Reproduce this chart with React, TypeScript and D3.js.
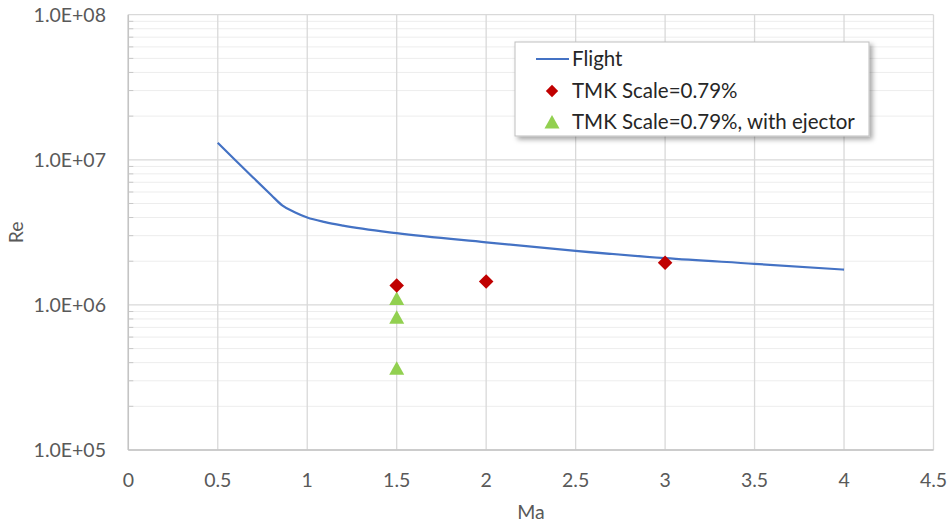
import React from "react";
import * as d3 from "d3";

// Flight envelope (Ma, Re)
const flightMa = [0.5, 0.6, 0.7, 0.8, 0.86, 0.93, 1.0, 1.1, 1.2, 1.5, 2.0, 2.5, 3.0, 3.5, 4.0];
const flightRe = [1.31e7, 9.9e6, 7.5e6, 5.7e6, 4.85e6, 4.35e6, 4.0e6, 3.72e6, 3.52e6, 3.12e6, 2.7e6, 2.36e6, 2.1e6, 1.92e6, 1.75e6];

// TMK Scale=0.79%
const tmkMa = [1.5, 2.0, 3.0];
const tmkRe = [1.36e6, 1.45e6, 1.95e6];

// TMK Scale=0.79%, with ejector
const ejMa = [1.5, 1.5, 1.5];
const ejRe = [1.09e6, 8.1e5, 3.6e5];

const xTicks = [0, 0.5, 1, 1.5, 2, 2.5, 3, 3.5, 4, 4.5];
const yTicks = [1e5, 1e6, 1e7, 1e8];
const yTickLabels = ["1.0E+05", "1.0E+06", "1.0E+07", "1.0E+08"];

const legendLabels = ["Flight", "TMK Scale=0.79%", "TMK Scale=0.79%, with ejector"];

const W = 952;
const H = 522;
const FONT = "Lato, 'Liberation Sans', sans-serif";
const TEXT = "#595959";

export default function App() {
  const x = d3.scaleLinear().domain([0, 4.5]).range([128.3, 933.5]);
  const y = d3.scaleLog().domain([1e5, 1e8]).range([450, 14.7]);

  const minor: number[] = [];
  for (let e = 5; e < 8; e++) {
    for (let m = 2; m <= 9; m++) minor.push(m * Math.pow(10, e));
  }

  const flight = flightMa.map((m, i) => [m, flightRe[i]] as [number, number]);
  const line = d3
    .line<[number, number]>()
    .x(d => x(d[0]))
    .y(d => y(d[1]))
    .curve(d3.curveMonotoneX);

  const diamond = d3.symbol().type(d3.symbolDiamond2).size(135)();
  const tri = (cx: number, cy: number) =>
    `M${cx},${cy - 8}L${cx + 7.5},${cy + 5.5}L${cx - 7.5},${cy + 5.5}Z`;

  const [x0, x1] = x.range();
  const [yb, yt] = y.range();

  const lg = { x: 515, y: 42, w: 354, h: 94 };
  const rowY = [59, 91, 122];

  return (
    <svg width={W} height={H} style={{ position: "absolute", left: 0, top: 0, background: "#fff" }}>
      <defs>
        <filter id="shadow" x="-10%" y="-10%" width="130%" height="140%">
          <feDropShadow dx="3" dy="3" stdDeviation="2.5" floodColor="#000" floodOpacity="0.35" />
        </filter>
      </defs>
      <rect width={W} height={H} fill="#fff" />

      {/* minor horizontal grid */}
      {minor.map((v, i) => (
        <g key={"m" + i}>
          <line x1={x0} x2={x1} y1={y(v)} y2={y(v)} stroke="#ededed" strokeWidth={1} />
          <line x1={x0} x2={x0 + 5} y1={y(v)} y2={y(v)} stroke="#c8c8c8" strokeWidth={1} />
        </g>
      ))}
      {/* major horizontal grid */}
      {yTicks.map((v, i) => (
        <line key={"M" + i} x1={x0} x2={x1} y1={y(v)} y2={y(v)} stroke="#d9d9d9" strokeWidth={1.3} />
      ))}
      {/* vertical grid */}
      {xTicks.map((v, i) => (
        <line key={"v" + i} x1={x(v)} x2={x(v)} y1={yt} y2={yb} stroke="#d9d9d9" strokeWidth={1.3} />
      ))}
      {/* axes */}
      <line x1={x0} x2={x1} y1={yb} y2={yb} stroke="#c4c4c4" strokeWidth={1.5} />
      <line x1={x0} x2={x0} y1={yt} y2={yb} stroke="#c4c4c4" strokeWidth={1.5} />

      {/* y tick labels */}
      {yTicks.map((v, i) => (
        <text key={"yl" + i} x={106} y={y(v)} dy="0.35em" textAnchor="end" fontFamily={FONT} fontSize={19.5} fill={TEXT}>
          {yTickLabels[i]}
        </text>
      ))}
      {/* x tick labels */}
      {xTicks.map((v, i) => (
        <text key={"xl" + i} x={x(v)} y={480} dy="0.35em" textAnchor="middle" fontFamily={FONT} fontSize={19.5} fill={TEXT}>
          {String(v)}
        </text>
      ))}
      <text x={(x0 + x1) / 2} y={512} dy="0.35em" textAnchor="middle" fontFamily={FONT} fontSize={19.5} fill={TEXT}>
        Ma
      </text>
      <text
        transform={`translate(16,${(yt + yb) / 2}) rotate(-90)`}
        textAnchor="middle"
        dy="0.35em"
        fontFamily={FONT}
        fontSize={19.5}
        fill={TEXT}
      >
        Re
      </text>

      {/* flight line */}
      <path d={line(flight) || ""} fill="none" stroke="#4472c4" strokeWidth={2.2} />

      {/* ejector triangles */}
      {ejMa.map((m, i) => (
        <path key={"t" + i} d={tri(x(m), y(ejRe[i]))} fill="#92d050" />
      ))}
      {/* TMK diamonds */}
      {tmkMa.map((m, i) => (
        <path key={"d" + i} d={diamond || ""} transform={`translate(${x(m)},${y(tmkRe[i])})`} fill="#c00000" />
      ))}

      {/* legend */}
      <rect x={lg.x} y={lg.y} width={lg.w} height={lg.h} fill="#fff" stroke="#bfbfbf" strokeWidth={1} filter="url(#shadow)" />
      <line x1={536} x2={569} y1={rowY[0]} y2={rowY[0]} stroke="#4472c4" strokeWidth={2.2} />
      <path d={diamond || ""} transform={`translate(552,${rowY[1]}) scale(0.85)`} fill="#c00000" />
      <path d={tri(552, rowY[2] + 1)} fill="#92d050" />
      {legendLabels.map((t, i) => (
        <text key={"lg" + i} x={572} y={rowY[i]} dy="0.35em" fontFamily={FONT} fontSize={20.5} fill="#262626">
          {t}
        </text>
      ))}
    </svg>
  );
}
